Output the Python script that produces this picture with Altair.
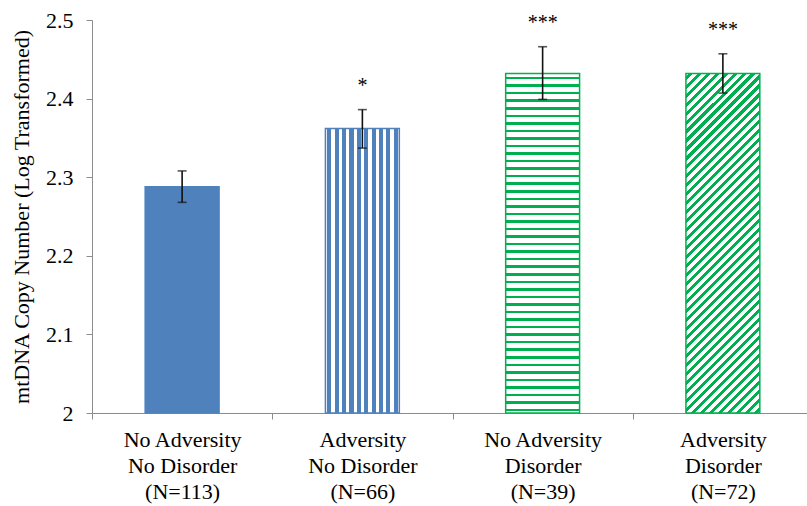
import altair as alt
import pandas as pd

# Group labels (three lines each) and sample sizes
line1 = ["No Adversity", "Adversity", "No Adversity", "Adversity"]
line2 = ["No Disorder", "No Disorder", "Disorder", "Disorder"]
n_sizes = [113, 66, 39, 72]

# Group means and error bar limits (log-transformed mtDNA copy number)
means = [2.288, 2.362, 2.432, 2.432]
err_low = [2.268, 2.337, 2.399, 2.407]
err_high = [2.308, 2.386, 2.466, 2.457]
sig_marks = ["", "*", "***", "***"]

y_ticks = [2.0, 2.1, 2.2, 2.3, 2.4, 2.5]

groups = [f"{a}|{b}|(N={n})" for a, b, n in zip(line1, line2, n_sizes)]
df = pd.DataFrame({
    "group": groups,
    "idx": list(range(len(groups))),
    "mean": means,
    "lo": err_low,
    "hi": err_high,
    "sig": sig_marks,
})

BLUE = "#4F81BD"
GREEN = "#00B050"
WHITE = "#FFFFFF"
FONT = "Liberation Serif"


def stripes(color, periods, frac, lead, x1=0.0, y1=0.0, x2=1.0, y2=0.0):
    """Linear gradient with hard stops that reads as a hatch pattern."""
    stops = [alt.GradientStop(color=WHITE, offset=0.0)]
    for i in range(periods):
        a = (i + lead) / periods
        b = (i + lead + frac) / periods
        stops += [
            alt.GradientStop(color=WHITE, offset=a),
            alt.GradientStop(color=color, offset=a),
            alt.GradientStop(color=color, offset=b),
            alt.GradientStop(color=WHITE, offset=b),
        ]
    stops.append(alt.GradientStop(color=WHITE, offset=1.0))
    return alt.LinearGradient(gradient="linear", stops=stops, x1=x1, y1=y1, x2=x2, y2=y2)


# approximate bar box in pixels (for the diagonal hatch angle)
bw, bh = 73.9, 339.6
k = (bw + bh) / (bw * bw + bh * bh)

fills = [
    BLUE,
    stripes(BLUE, 10, 0.55, 0.25, x1=0, y1=0, x2=1, y2=0),
    stripes(GREEN, 45, 0.33, 0.45, x1=0, y1=0, x2=0, y2=1),
    stripes(GREEN, 46, 0.45, 0.30, x1=0, y1=0, x2=k * bw, y2=k * bh),
]
strokes = [BLUE, BLUE, GREEN, GREEN]

AXIS_GRAY = "#8C8C8C"

x_enc = alt.X(
    "group:N",
    sort=None,
    scale=alt.Scale(range=[0, 721], paddingInner=0, paddingOuter=0),
    axis=alt.Axis(
        title=None,
        labelExpr="split(datum.label, '|')",
        labelAngle=0,
        labelFont=FONT,
        labelFontSize=22,
        labelColor="#000000",
        labelLineHeight=26,
        labelPadding=10,
        tickBand="extent",
        tickSize=6,
        tickColor=AXIS_GRAY,
        domainColor=AXIS_GRAY,
    ),
)

y_scale = alt.Scale(domain=[y_ticks[0], y_ticks[-1]], zero=False, nice=False)
y_enc = alt.Y(
    "mean:Q",
    scale=y_scale,
    axis=alt.Axis(
        title="mtDNA Copy Number (Log Transformed)",
        titleFont=FONT,
        titleFontSize=22,
        titleFontWeight="normal",
        titleColor="#000000",
        titlePadding=12,
        values=y_ticks,
        format="~g",
        labelFont=FONT,
        labelFontSize=22,
        labelColor="#000000",
        labelPadding=13,
        tickSize=6,
        tickColor=AXIS_GRAY,
        domainColor=AXIS_GRAY,
        grid=False,
    ),
)

base = alt.Chart(df)

bars = [
    base.transform_filter(alt.datum.idx == i)
    .mark_bar(fill=fills[i], stroke=strokes[i], strokeWidth=1.5,
              width=alt.RelativeBandSize(0.41))
    .encode(x=x_enc, y=y_enc, y2=alt.datum(y_ticks[0]))
    for i in range(len(groups))
]

err_color = "#111111"
whisker = base.mark_rule(color=err_color, strokeWidth=1.6).encode(
    x=x_enc, y=alt.Y("lo:Q", scale=y_scale), y2="hi:Q"
)
cap_hi = base.mark_tick(orient="horizontal", color=err_color, size=9, thickness=1.6).encode(
    x=x_enc, y=alt.Y("hi:Q", scale=y_scale)
)
cap_lo = base.mark_tick(orient="horizontal", color=err_color, size=9, thickness=1.6).encode(
    x=x_enc, y=alt.Y("lo:Q", scale=y_scale)
)
stars = base.mark_text(font=FONT, fontSize=20, color="#000000", dy=-18,
                       baseline="alphabetic").encode(
    x=x_enc, y=alt.Y("hi:Q", scale=y_scale), text="sig:N"
)

chart = alt.layer(*bars, whisker, cap_hi, cap_lo, stars).properties(
    width=715,
    height=393,
    autosize=alt.AutoSizeParams(type="none"),
    padding={"left": 92, "top": 20, "right": 0, "bottom": 93},
    background="#FFFFFF",
).configure_view(stroke=None)

chart.save("out.html", embed_options={"renderer": "svg", "actions": False})
